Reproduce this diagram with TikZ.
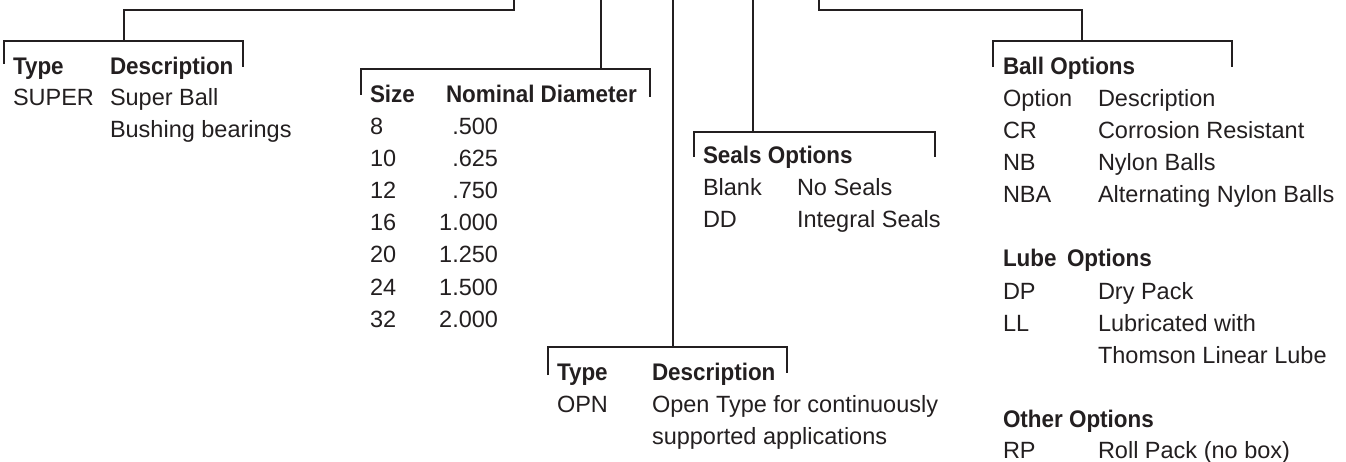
\documentclass[tikz,border=0pt]{standalone}
\usepackage{fontspec}
\setmainfont{Liberation Sans}
\newfontfamily\hdfont[FakeStretch=0.935]{Liberation Sans}
\definecolor{ink}{HTML}{231F20}
\tikzset{
  lbl/.style={anchor=base west, inner sep=0pt, outer sep=0pt, text=ink, font=\fontsize{23.5}{28}\selectfont},
  hd/.style={lbl, font=\hdfont\bfseries\fontsize{24}{28}\selectfont},
  num/.style={lbl, anchor=base east},
  wire/.style={draw=ink, line width=2.6pt, line cap=butt, line join=miter}
}
\begin{document}
\begin{tikzpicture}[x=1pt, y=-1pt]
\useasboundingbox (0,0) rectangle (1346,462);

% ---------- bracket coordinates ----------
% Type / Description (SUPER)
\coordinate (aL) at (4,64);   \coordinate (aTL) at (4,41);
\coordinate (aTR) at (243,41); \coordinate (aR) at (243,67);
\coordinate (aHub) at (124,41); \coordinate (aC) at (514,10); \coordinate (aTop) at (514,0);
% Size
\coordinate (bL) at (361,95);  \coordinate (bTL) at (361,69);
\coordinate (bTR) at (650,69); \coordinate (bR) at (650,97);
\coordinate (bHub) at (601,69); \coordinate (bTop) at (601,0);
% Seals
\coordinate (cL) at (694,157); \coordinate (cTL) at (694,132);
\coordinate (cTR) at (935,132); \coordinate (cR) at (935,157);
\coordinate (cHub) at (753,132); \coordinate (cTop) at (753,0);
% OPN
\coordinate (dL) at (548,375); \coordinate (dTL) at (548,347);
\coordinate (dTR) at (787,347); \coordinate (dR) at (787,373);
\coordinate (dHub) at (673,347); \coordinate (dTop) at (673,0);
% Ball options
\coordinate (eL) at (993,67);  \coordinate (eTL) at (993,41);
\coordinate (eTR) at (1232,41); \coordinate (eR) at (1232,67);
\coordinate (eHub) at (1082,41); \coordinate (eC) at (819,10); \coordinate (eTop) at (819,0);

% ---------- brackets and connectors ----------
\draw[wire] (aL) -- (aTL) -- (aTR) -- (aR);
\draw[wire] (aHub) |- (aC) -- (aTop);
\draw[wire] (bL) -- (bTL) -- (bTR) -- (bR);
\draw[wire] (bHub) -- (bTop);
\draw[wire] (cL) -- (cTL) -- (cTR) -- (cR);
\draw[wire] (cHub) -- (cTop);
\draw[wire] (dL) -- (dTL) -- (dTR) -- (dR);
\draw[wire] (dHub) -- (dTop);
\draw[wire] (eL) -- (eTL) -- (eTR) -- (eR);
\draw[wire] (eHub) |- (eC) -- (eTop);

% ---------- Type / Description ----------
\node[hd]  (t1h1) at (13,75)  {Type};
\node[hd]  (t1h2) at (110,75) {Description};
\node[lbl] (t1a)  at (13,106) {SUPER};
\node[lbl] (t1b)  at (110,106) {Super Ball};
\node[lbl] (t1c)  at (110,138) {Bushing bearings};

% ---------- Size ----------
\node[hd]  (sh1) at (370,103) {Size};
\node[hd]  (sh2) at (446,103) {Nominal Diameter};
\node[lbl] (s1) at (370,135) {8};   \node[num] (v1) at (498,135) {.500};
\node[lbl] (s2) at (370,167) {10};  \node[num] (v2) at (498,167) {.625};
\node[lbl] (s3) at (370,199) {12};  \node[num] (v3) at (498,199) {.750};
\node[lbl] (s4) at (370,231) {16};  \node[num] (v4) at (498,231) {1.000};
\node[lbl] (s5) at (370,263) {20};  \node[num] (v5) at (498,263) {1.250};
\node[lbl] (s6) at (370,295) {24};  \node[num] (v6) at (498,295) {1.500};
\node[lbl] (s7) at (370,327) {32};  \node[num] (v7) at (498,327) {2.000};

% ---------- Seals ----------
\node[hd]  (seh) at (703,164) {Seals Options};
\node[lbl] (se1) at (703,196) {Blank};
\node[lbl] (se2) at (797,196) {No Seals};
\node[lbl] (se3) at (703,228) {DD};
\node[lbl] (se4) at (797,228) {Integral Seals};

% ---------- OPN ----------
\node[hd]  (oh1) at (557,380) {Type};
\node[hd]  (oh2) at (652,380) {Description};
\node[lbl] (o1)  at (557,412) {OPN};
\node[lbl] (o2)  at (652,412) {Open Type for continuously};
\node[lbl] (o3)  at (652,444) {supported applications};

% ---------- Ball / Lube / Other options ----------
\node[hd]  (bh)  at (1003,75)  {Ball Options};
\node[lbl] (b1)  at (1003,107) {Option};
\node[lbl] (b2)  at (1098,107) {Description};
\node[lbl] (b3)  at (1003,139) {CR};
\node[lbl] (b4)  at (1098,139) {Corrosion Resistant};
\node[lbl] (b5)  at (1003,171) {NB};
\node[lbl] (b6)  at (1098,171) {Nylon Balls};
\node[lbl] (b7)  at (1003,203) {NBA};
\node[lbl] (b8)  at (1098,203) {Alternating Nylon Balls};

\node[hd]  (lh1) at (1003,267) {Lube};
\node[hd]  (lh2) at (1067,267) {Options};
\node[lbl] (l1)  at (1003,299) {DP};
\node[lbl] (l2)  at (1098,299) {Dry Pack};
\node[lbl] (l3)  at (1003,331) {LL};
\node[lbl] (l4)  at (1098,331) {Lubricated with};
\node[lbl] (l5)  at (1098,363) {Thomson Linear Lube};

\node[hd]  (ph)  at (1003,427) {Other Options};
\node[lbl] (p1)  at (1003,458) {RP};
\node[lbl] (p2)  at (1098,458) {Roll Pack (no box)};
\end{tikzpicture}
\end{document}
